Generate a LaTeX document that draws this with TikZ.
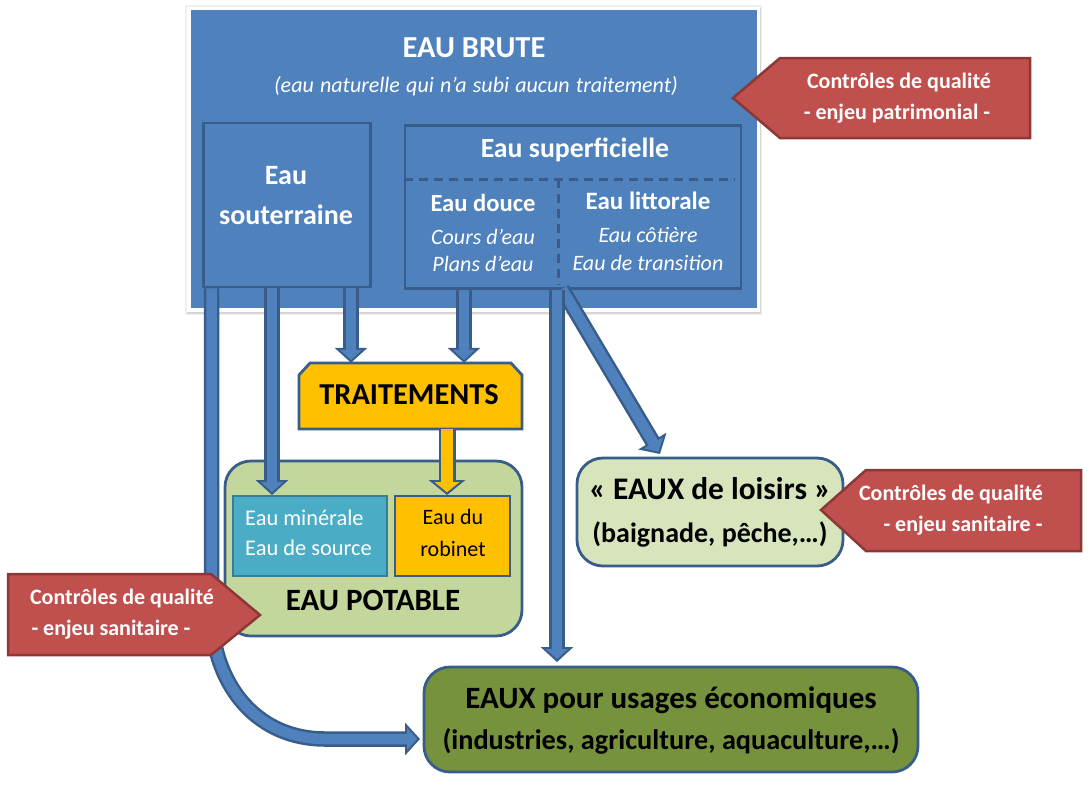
\documentclass[tikz,border=0pt]{standalone}
\usepackage{fontspec}
\setmainfont{Carlito}
\usetikzlibrary{arrows.meta}
\definecolor{bluefill}{HTML}{4F81BD}
\definecolor{blueedge}{HTML}{385D8A}
\definecolor{redfill}{HTML}{C0504D}
\definecolor{rededge}{HTML}{8C3836}
\definecolor{goldfill}{HTML}{FFC000}
\definecolor{potable}{HTML}{C3D69B}
\definecolor{loisirs}{HTML}{D7E4BC}
\definecolor{eco}{HTML}{76923C}
\definecolor{aqua}{HTML}{4BACC6}
\definecolor{aquaedge}{HTML}{357D9B}
\newcommand{\fz}[1]{\fontsize{#1}{#1}\selectfont}
\tikzset{
  box/.style={draw=blueedge,line width=2.8pt,inner sep=0pt},
  rbox/.style={box,rounded corners=26pt},
  lab/.style={anchor=base,inner sep=0pt,text=white},
  labk/.style={lab,text=black},
  blockarrow/.style={draw=blueedge,line width=15.5pt,line join=miter,
    -{Triangle[length=15pt,width=32pt]},
    postaction={draw=bluefill,line width=10.5pt,shorten >=2.8pt,
      -{Triangle[length=10.2pt,width=21.5pt]}}},
  goldarrow/.style={draw=blueedge,line width=17pt,
    -{Triangle[length=15pt,width=36pt]},
    postaction={draw=goldfill,line width=12.5pt,shorten >=2.8pt,
      -{Triangle[length=10.2pt,width=24.5pt]}}},
  callout/.style={draw=rededge,fill=redfill,line width=2.5pt,line join=miter},
}
\begin{document}
\begin{tikzpicture}[x=1pt,y=-1pt]
\useasboundingbox (0,0) rectangle (1090,785);
% main panel with its soft white frame
\fill[black!6] (185,5) rectangle (762,315);
\fill[black!16] (187,8) rectangle (761,314);
\fill[white] (187,7) rectangle (760,312);
\node[fill=bluefill,inner sep=0pt,minimum width=566pt,minimum height=298pt] (brute) at (473.5,159) {};
\node[lab,font=\bfseries\fz{30.5}] (tbrute) at (474,57) {EAU BRUTE};
\node[lab,font=\itshape\fz{22}] (tsub) at (476,92) {\spaceskip=6.2pt (eau naturelle qui n’a subi aucun traitement)};
\node[box,minimum width=167pt,minimum height=164pt] (sout) at (287,205) {};
\node[lab,font=\bfseries\fz{28}] (teau) at (286,184) {Eau};
\node[lab,font=\bfseries\fz{28}] (tsout) at (286,224) {souterraine};
\node[box,minimum width=336pt,minimum height=163pt] (sup) at (573,207) {};
\draw[blueedge,line width=3pt,dash pattern=on 9pt off 6pt] (sup.west |- 0,179) -- (735,179);
\draw[blueedge,line width=3pt,dash pattern=on 9pt off 6pt] (558,179) -- (558,285);
\node[lab,font=\bfseries\fz{27.8}] (tsup) at (575,157) {Eau superficielle};
\node[lab,font=\bfseries\fz{24.6}] (tdouce) at (483,211) {Eau douce};
\node[lab,font=\bfseries\fz{25}] (tlitt) at (648,209) {Eau littorale};
\node[lab,font=\itshape\fz{22}] (tcours) at (483,244) {Cours d’eau};
\node[lab,font=\itshape\fz{22}] (tplans) at (483,271) {Plans d’eau};
\node[lab,font=\itshape\fz{22}] (tcot) at (648,242) {Eau côtière};
\node[lab,font=\itshape\fz{22}] (ttrans) at (648,270) {Eau de transition};
% target nodes
\draw[box,fill=goldfill] (310,363) -- (511,363) -- (522,375) -- (522,429) -- (299,429) -- (299,375) -- cycle;
\node[inner sep=0pt,minimum width=223pt,minimum height=66pt] (trait) at (410.5,396) {};
\node[labk,font=\bfseries\fz{30.4}] (ttrait) at (409,404) {TRAITEMENTS};
\node[rbox,fill=potable,minimum width=297pt,minimum height=175pt] (pot) at (373.5,548.5) {};
\node[box,fill=aqua,draw=aquaedge,minimum width=154pt,minimum height=80pt] (min) at (310,536) {};
\node[box,fill=goldfill,minimum width=115pt,minimum height=80pt] (rob) at (452.5,536) {};
\node[lab,anchor=base west,font=\fz{22.4}] (tmin) at (245,525) {Eau minérale};
\node[lab,anchor=base west,font=\fz{22.4}] (tsrc) at (245,555) {Eau de source};
\node[labk,font=\fz{22}] (tdu) at (453,524) {Eau du};
\node[labk,font=\fz{22}] (trob) at (453,556) {robinet};
\node[labk,font=\bfseries\fz{31}] (tpot) at (373,610) {EAU POTABLE};
\node[rbox,fill=loisirs,minimum width=266pt,minimum height=108pt] (lois) at (710,512) {};
\node[labk,font=\bfseries\fz{31.4}] (tlois) at (710,499) {« EAUX de loisirs »};
\node[labk,font=\bfseries\fz{28}] (tbai) at (710,542) {(baignade, pêche,…)};
\node[rbox,fill=eco,minimum width=494pt,minimum height=105pt] (econ) at (671,719.5) {};
\node[labk,font=\bfseries\fz{31}] (teco) at (671,708) {EAUX pour usages économiques};
\node[labk,font=\bfseries\fz{28.3}] (tind) at (671,749) {(industries, agriculture, aquaculture,…)};
% connectors
\coordinate (tipeco) at (420,739);
\coordinate (tiploi) at (660,454);
\coordinate (startloi) at (562,289);
\coordinate (tipvert) at (557,662);
\coordinate (tipmin) at (272,495);
\coordinate (tiprob) at (447,495);
\draw[blockarrow] (211.5,0 |- sout.south) -- (211.5,620) .. controls (216,690) and (260,739) .. (325,739) -- (tipeco);
\draw[blockarrow] (272,0 |- sout.south) -- (tipmin);
\draw[blockarrow] (351,0 |- sout.south) -- (351,0 |- trait.north);
\draw[blockarrow] (464,0 |- sup.south) -- (464,0 |- trait.north);
\draw[goldarrow] (447,0 |- trait.south) -- (tiprob);
\draw[blockarrow] (startloi) -- (tiploi);
\draw[blockarrow] (557,0 |- sup.south) -- (tipvert);
% quality callouts
\draw[callout] (780,58) -- (1030,58) -- (1030,138) -- (780,138) -- (733,98) -- cycle;
\node[lab,font=\bfseries\fz{22}] (c1a) at (899,88) {Contrôles de qualité};
\node[lab,font=\bfseries\fz{22}] (c1b) at (897,119) {- enjeu patrimonial -};
\draw[callout] (866,470) -- (1081,470) -- (1081,551) -- (866,551) -- (821,510) -- cycle;
\node[lab,font=\bfseries\fz{22}] (c2a) at (951,500) {Contrôles de qualité};
\node[lab,font=\bfseries\fz{22}] (c2b) at (963,531) {- enjeu sanitaire -};
\draw[callout] (8,574) -- (211,574) -- (260,615) -- (211,655) -- (8,655) -- cycle;
\node[lab,font=\bfseries\fz{22}] (c3a) at (122,604) {Contrôles de qualité};
\node[lab,font=\bfseries\fz{22}] (c3b) at (111,635) {- enjeu sanitaire -};
\end{tikzpicture}
\end{document}
